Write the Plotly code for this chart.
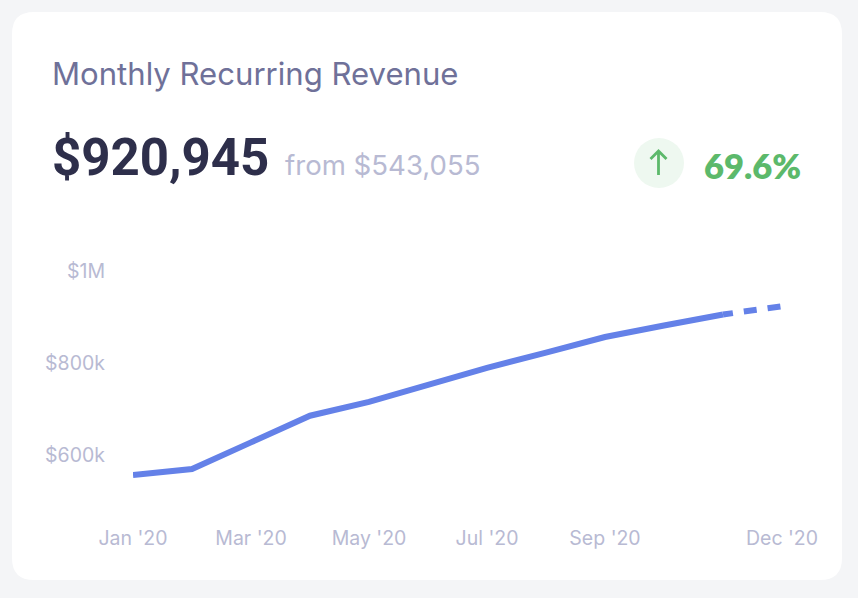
import plotly.graph_objects as go

W, H = 858, 598
months = ["Jan", "Feb", "Mar", "Apr", "May", "Jun", "Jul", "Aug", "Sep", "Oct", "Nov", "Dec"]
solid_values = [556, 569, 627, 685, 715, 752, 789, 822, 856, 881, 905]
dashed_months = ["Nov", "Dec"]
dashed_values = [905, 923]
tick_months = ["Jan", "Mar", "May", "Jul", "Sep", "Dec"]
tick_labels = ["Jan '20", "Mar '20", "May '20", "Jul '20", "Sep '20", "Dec '20"]
y_ticks = [600, 800, 1000]
y_labels = ["$600k", "$800k", "$1M"]

# plot rectangle in window pixels
PL, PR, PT, PB = 133, 782, 240, 510

def px(v):
    return (v - PL) / (PR - PL)

def py(v):
    return (PB - v) / (PB - PT)

r = 22
card = (
    f"M {px(12+r)} {py(12)} L {px(842-r)} {py(12)} Q {px(842)} {py(12)} {px(842)} {py(12+r)} "
    f"L {px(842)} {py(580-r)} Q {px(842)} {py(580)} {px(842-r)} {py(580)} "
    f"L {px(12+r)} {py(580)} Q {px(12)} {py(580)} {px(12)} {py(580-r)} "
    f"L {px(12)} {py(12+r)} Q {px(12)} {py(12)} {px(12+r)} {py(12)} Z"
)
arrow = (
    f"M {px(658.5)} {py(175)} L {px(658.5)} {py(151)} "
    f"M {px(650.5)} {py(159)} L {px(658.5)} {py(151)} L {px(666.5)} {py(159)}"
)

fig = go.Figure()
fig.add_trace(go.Scatter(x=months[:11], y=solid_values, mode="lines",
                         line=dict(color="#6481e8", width=6), hoverinfo="skip"))
fig.add_trace(go.Scatter(x=dashed_months, y=dashed_values, mode="lines",
                         line=dict(color="#6481e8", width=6, dash="10px,11px,13px,11px,13px"),
                         hoverinfo="skip"))


def label(x, y, text, size, color, anchor="left", family="Inter", weight=400):
    fig.add_annotation(xref="paper", yref="paper", x=px(x), y=py(y), text=text, showarrow=False,
                       xanchor=anchor, yanchor="middle", align="left", borderpad=0, borderwidth=0,
                       font=dict(size=size, color=color, family=family, weight=weight))


label(52, 74, "Monthly Recurring Revenue", 31.1, "#6f7199")
label(52, 158, "$920,945", 51, "#2e2f4b", family="Roboto", weight=700)
label(285, 165, "from $543,055", 27.6, "#b8bad3")
label(704, 165, "69.6%", 34.5, "#5cb96b", family="Lato", weight=800)

fig.update_layout(
    width=W, height=H, autosize=False,
    paper_bgcolor="#f4f5f7", plot_bgcolor="rgba(0,0,0,0)",
    margin=dict(l=PL, r=W - PR, t=PT, b=H - PB),
    showlegend=False,
    shapes=[
        dict(type="path", xref="paper", yref="paper", path=card, fillcolor="#ffffff",
             line=dict(width=0), layer="below"),
        dict(type="circle", xref="paper", yref="paper", x0=px(634), x1=px(684), y0=py(188), y1=py(138),
             fillcolor="#eef8f0", line=dict(width=0), layer="below"),
        dict(type="path", xref="paper", yref="paper", path=arrow,
             line=dict(color="#5cb96b", width=2.8), layer="above"),
    ],
    xaxis=dict(type="category", categoryorder="array", categoryarray=months,
               range=[0, 11], tickmode="array", tickvals=tick_months, ticktext=tick_labels,
               showgrid=False, zeroline=False, showline=False, ticks="", ticklabelstandoff=14,
               tickfont=dict(family="Inter", size=19.5, color="#b8bad3")),
    yaxis=dict(range=[480, 1067], tickmode="array", tickvals=y_ticks, ticktext=y_labels,
               showgrid=False, zeroline=False, showline=False, ticks="", ticklabelstandoff=27,
               tickfont=dict(family="Inter", size=19.5, color="#b8bad3")),
)
fig.write_html("out.html", post_script="document.body.style.margin='0';", config={"displayModeBar": False})
